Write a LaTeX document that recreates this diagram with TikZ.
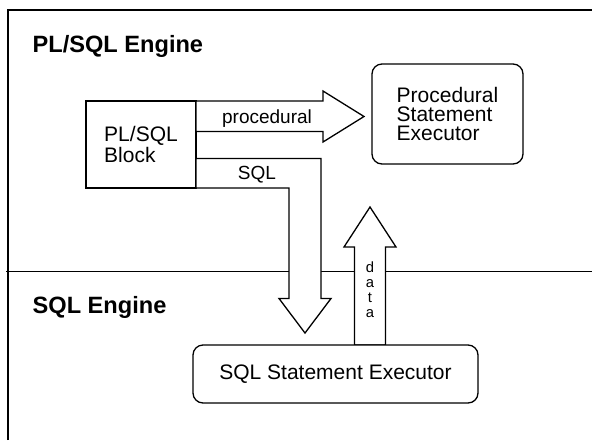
\documentclass[tikz,border=0pt]{standalone}
\usepackage{fontspec}
\setmainfont{Liberation Sans}
\begin{document}
\begin{tikzpicture}[x=1pt,y=-1pt,line width=1.3pt,
  plainbox/.style={draw, fill=white, inner sep=0pt, outer sep=0pt, anchor=north west,
    font=\fontsize{21}{18.8}\selectfont, align=left},
  rbox/.style={plainbox, rounded corners=10pt},
  blockarrow/.style={draw, fill=white, line join=miter},
  heading/.style={anchor=base west, inner sep=0pt, font=\fontsize{23.6}{28}\selectfont\bfseries},
  arrowlabel/.style={anchor=base, inner sep=0pt, font=\fontsize{19}{22}\selectfont},
  datalabel/.style={anchor=center, inner sep=0pt, align=center, font=\fontsize{14.8}{15.3}\selectfont}]
\useasboundingbox (0,0) rectangle (592,440);
% frame and divider
\draw (8,440) -- (8,10) -- (592,10);
\draw (6,271.5) -- (592,271.5);
% nodes
\node[plainbox, minimum width=110pt, minimum height=87pt] (blk) at (86,101) {PL/SQL\\Block};
% block arrows
\draw[blockarrow] (blk.north east) -- (323,101) -- (323,91) -- (364,116.5) -- (323,142) -- (323,131.5) -- (196,131.5) -- cycle;
\draw[blockarrow] (196,158.5) -- (321,158.5) -- (321,298.5) -- (331,298.5) -- (305,333) -- (279,298.5) -- (289,298.5) -- (289,188) -- (blk.south east) -- cycle;
\draw[blockarrow] (354.5,345) -- (354.5,247) -- (344,247) -- (370,207) -- (396,247) -- (385.5,247) -- (385.5,345) -- cycle;
\node[rbox, minimum width=151pt, minimum height=100pt, font=\fontsize{21}{19.2}\selectfont] (proc) at (372,64) {Procedural\\Statement\\Executor};
\node[rbox, minimum width=285pt, minimum height=58pt, align=center] (sqlx) at (193,345) {SQL Statement Executor};
% labels
\node[arrowlabel] (lp) at (267,123.3) {procedural};
\node[arrowlabel] (ls) at (257,179.3) {SQL};
\node[datalabel] (ld) at (370,289.7) {d\\a\\t\\a};
\node[heading] (h1) at (32,52) {PL/SQL Engine};
\node[heading] (h2) at (32,313) {SQL Engine};
\end{tikzpicture}
\end{document}
